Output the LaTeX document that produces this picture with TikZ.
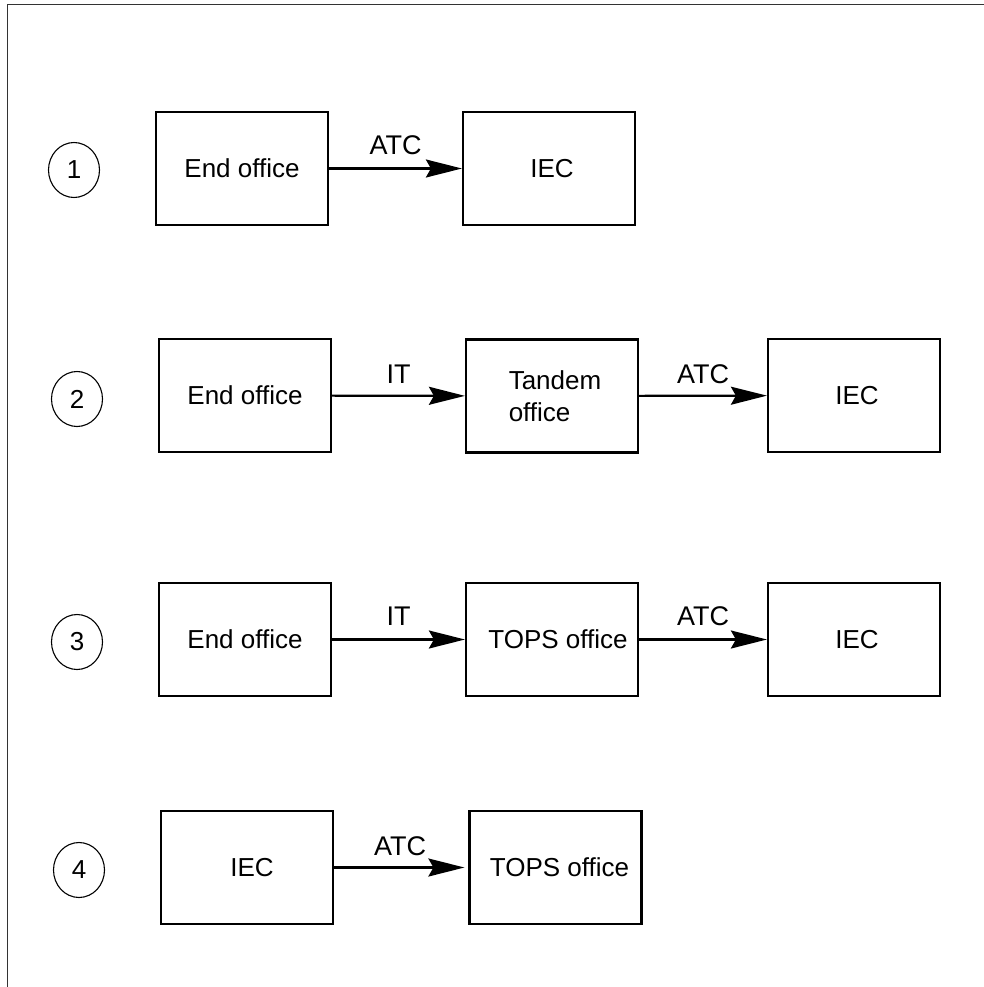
\documentclass[tikz,border=0pt]{standalone}
\usepackage{fontspec}
\setmainfont{Liberation Sans}
\usetikzlibrary{arrows.meta,shapes.geometric}
\begin{document}
\begin{tikzpicture}[x=1pt,y=-1pt,
  box/.style={draw, line width=2.2pt, rectangle, minimum width=172pt, minimum height=113pt, inner sep=0pt, font=\fontsize{26}{32}\selectfont},
  num/.style={draw, line width=1.1pt, ellipse, minimum width=51pt, minimum height=55pt, inner sep=0pt, font=\fontsize{26}{28}\selectfont},
  arr/.style={line width=2.2pt, -{Stealth[length=36pt,width=18pt,inset=5pt]}},
  lbl/.style={anchor=base, inner sep=0pt, font=\fontsize{27}{28}\selectfont}]
\useasboundingbox (0,0) rectangle (984,987);
\draw[line width=1.8pt, black!80] (7.5,987) -- (7.5,4.5) -- (984,4.5);
% row 1
\node[num] (c1) at (74,170) {1};
\node[box] (eo1) at (242,168.5) {End office};
\node[box] (iec1) at (549,168.5) {\hspace*{6pt}IEC};
\draw[arr] (eo1) -- (iec1);
\node[lbl] (t1) at (395.5,155) {ATC};
% row 2
\node[num] (c2) at (77,399) {2};
\node[box] (eo2) at (245,395.5) {End office};
\node[box, align=left] (tan) at (552,396) {\hspace*{6pt}Tandem\\\hspace*{6pt}office};
\node[box] (iec2) at (854,395.5) {\hspace*{6pt}IEC};
\draw[arr] (eo2) -- (tan);
\draw[arr] (tan) -- (iec2);
\node[lbl] (t2a) at (398.5,383) {IT};
\node[lbl] (t2b) at (703,383) {ATC};
% row 3
\node[num] (c3) at (77,642) {3};
\node[box] (eo3) at (245,639.5) {End office};
\node[box] (tops3) at (552,639.5) {\hspace*{12pt}TOPS office};
\node[box] (iec3) at (854,639.5) {\hspace*{6pt}IEC};
\draw[arr] (eo3) -- (tops3);
\draw[arr] (tops3) -- (iec3);
\node[lbl] (t3a) at (398.5,625) {IT};
\node[lbl] (t3b) at (703,625) {ATC};
% row 4
\node[num] (c4) at (79,870) {4};
\node[box] (iec4) at (247,867.5) {\hspace*{10pt}IEC};
\node[box] (tops4) at (555.5,867.5) {\hspace*{8pt}TOPS office};
\draw[arr, shorten >=4pt] (iec4) -- (tops4);
\node[lbl] (t4) at (400,855) {ATC};
\end{tikzpicture}
\end{document}
